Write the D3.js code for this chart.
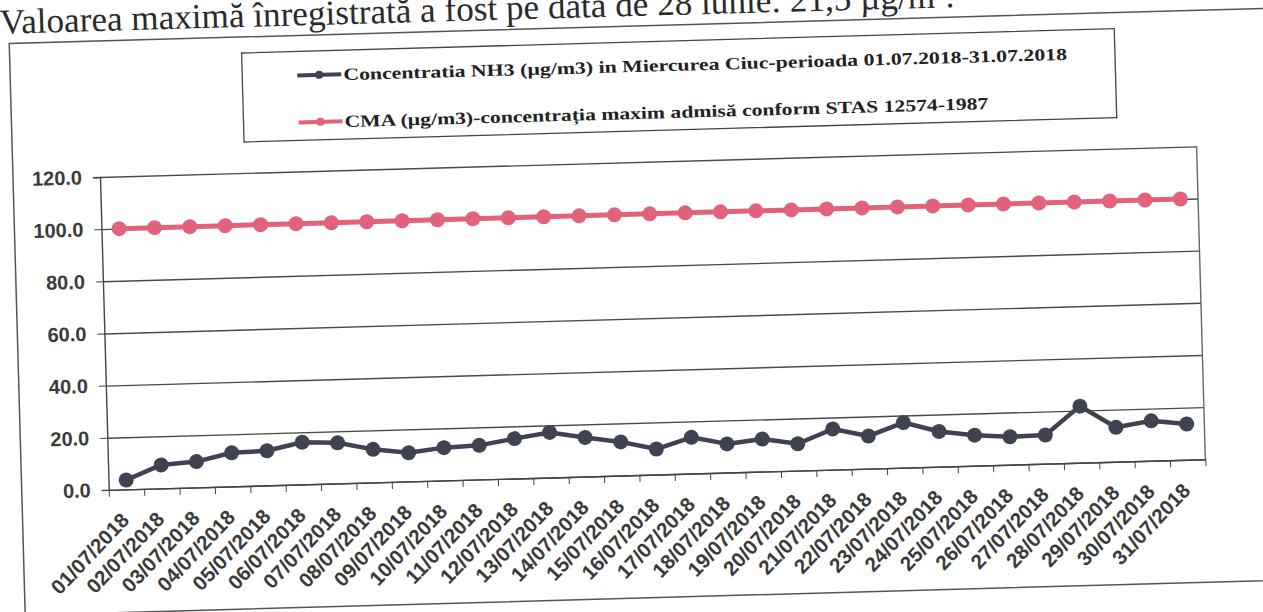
<!DOCTYPE html>
<html>
<head>
<meta charset="utf-8">
<script src="https://cdn.jsdelivr.net/npm/d3@7/dist/d3.min.js"></script>
<style>
  body { margin: 0; background: #fff; }
  svg { display: block; }
  .axis text { font-family: "Liberation Sans", Arial, sans-serif; font-weight: bold; fill: #3a3a3a; }
  .axis path, .axis line { stroke: #444; }
</style>
</head>
<body>
<svg id="chart" width="1263" height="612"></svg>
<script>
// NH3 daily concentrations, July 2018
var dates = ["01/07/2018","02/07/2018","03/07/2018","04/07/2018","05/07/2018","06/07/2018","07/07/2018",
  "08/07/2018","09/07/2018","10/07/2018","11/07/2018","12/07/2018","13/07/2018","14/07/2018",
  "15/07/2018","16/07/2018","17/07/2018","18/07/2018","19/07/2018","20/07/2018","21/07/2018",
  "22/07/2018","23/07/2018","24/07/2018","25/07/2018","26/07/2018","27/07/2018","28/07/2018",
  "29/07/2018","30/07/2018","31/07/2018"];
var nh3 = [3.6, 9.0, 9.9, 12.9, 13.3, 16.2, 15.6, 12.7, 11.0, 12.6, 13.1, 15.3, 17.3, 15.0, 12.9, 9.8,
  13.9, 11.0, 12.5, 10.3, 15.6, 12.5, 17.3, 13.5, 11.7, 10.7, 11.0, 21.7, 13.2, 15.3, 13.7];
var cma = [100, 100, 100, 100, 100, 100, 100, 100, 100, 100, 100, 100, 100, 100, 100, 100,
  100, 100, 100, 100, 100, 100, 100, 100, 100, 100, 100, 100, 100, 100, 100];
var yTicks = [0, 20, 40, 60, 80, 100, 120];
var seriesNames = ["Concentratia NH3 (\u00b5g/m3) in Miercurea Ciuc-perioada 01.07.2018-31.07.2018",
  "CMA (\u00b5g/m3)-concentra\u021bia maxim admis\u0103 conform STAS 12574-1987"];
var seriesColors = ["#3f4351", "#e2617b"];

var svg = d3.select("#chart");
svg.append("rect").attr("width", 1263).attr("height", 612).attr("fill", "#fff");

// the scanned page is slightly tilted
var page = svg.append("g").attr("transform", "rotate(-1.6,100,177)");

page.append("text")
    .attr("x", 4).attr("y", 31)
    .attr("textLength", 955).attr("lengthAdjust", "spacingAndGlyphs")
    .style("font-family", "'Liberation Serif', 'Times New Roman', serif")
    .style("font-size", "35px").attr("fill", "#2a2a2a")
    .text("Valoarea maxim\u0103 \u00eenregistrat\u0103 a fost pe data de 28 iunie: 21,5 \u00b5g/m\u00b3.");

// outer chart frame
page.append("rect")
    .attr("x", 13).attr("y", 41).attr("width", 1300).attr("height", 572)
    .attr("fill", "none").attr("stroke", "#555").attr("stroke-width", 1.5);

// legend
var legend = page.append("g");
legend.append("rect")
    .attr("x", 245).attr("y", 57).attr("width", 873).attr("height", 89)
    .attr("fill", "#fff").attr("stroke", "#444").attr("stroke-width", 1.3);
var item = legend.selectAll(".item")
    .data(seriesNames)
    .enter().append("g")
      .attr("class", "item")
      .attr("transform", function(d, i) { return "translate(300," + (81 + i * 47) + ")"; });
item.append("line")
    .attr("x1", 0).attr("x2", 44)
    .attr("stroke", function(d, i) { return seriesColors[i]; })
    .attr("stroke-width", 4);
item.append("circle")
    .attr("cx", 22).attr("r", 4)
    .attr("fill", function(d, i) { return seriesColors[i]; });
item.append("text")
    .attr("x", 46).attr("dy", "0.35em")
    .attr("textLength", function(d, i) { return i === 0 ? 724 : 644; })
    .attr("lengthAdjust", "spacingAndGlyphs")
    .style("font-family", "'Liberation Serif', 'Times New Roman', serif")
    .style("font-weight", "bold").style("font-size", "17px")
    .attr("fill", "#222")
    .text(function(d) { return d; });

// plot area
var margin = {left: 100, top: 177},
    width = 1097, height = 313;
var g = page.append("g").attr("transform", "translate(" + margin.left + "," + margin.top + ")");

var x = d3.scaleBand().domain(dates).range([0, width]).padding(0);
var xTick = d3.scaleLinear().domain([0, dates.length]).range([0, width]);
var y = d3.scaleLinear().domain([0, 120]).range([height, 0]);

// gridlines
g.append("g")
    .attr("class", "grid")
    .call(d3.axisLeft(y).tickValues(yTicks).tickSize(-width).tickFormat(""))
    .call(function(s) { s.select(".domain").remove(); })
    .selectAll("line").attr("stroke", "#4a4a4a").attr("stroke-width", 1.4);

// right border
g.append("line")
    .attr("x1", width).attr("x2", width).attr("y1", 0).attr("y2", height)
    .attr("stroke", "#666").attr("stroke-width", 1.4);

// y axis
g.append("g")
    .attr("class", "axis axis--y")
    .call(d3.axisLeft(y).tickValues(yTicks).tickSize(7).tickPadding(11).tickFormat(d3.format(".1f")))
    .call(function(s) { s.select(".domain").attr("stroke-width", 1.4); })
    .selectAll("text").style("font-size", "20px");

// x axis: tick marks between categories
g.append("g")
    .attr("class", "axis axis--x")
    .attr("transform", "translate(0," + height + ")")
    .call(d3.axisBottom(xTick).tickValues(d3.range(dates.length + 1)).tickSize(7).tickSizeOuter(0).tickFormat(""))
    .call(function(s) { s.select(".domain").attr("stroke-width", 1.4); });

// x labels
g.append("g")
    .attr("class", "axis axis--xlabels")
    .attr("transform", "translate(0," + height + ")")
    .call(d3.axisBottom(x).tickSize(0).tickPadding(0))
    .call(function(s) { s.select(".domain").remove(); })
    .selectAll("text")
      .style("font-size", "20.5px")
      .style("text-anchor", "end")
      .attr("y", 0).attr("dy", 0)
      .attr("transform", "translate(3,32) rotate(-45)");

var line = d3.line()
    .x(function(d, i) { return x(dates[i]) + x.bandwidth() / 2; })
    .y(function(d) { return y(d); });

[cma, nh3].forEach(function(values, k) {
  var col = k === 0 ? seriesColors[1] : seriesColors[0];
  var serie = g.append("g").attr("class", "serie");
  serie.append("path")
      .datum(values)
      .attr("fill", "none")
      .attr("stroke", col)
      .attr("stroke-width", k === 0 ? 5 : 4.5)
      .attr("stroke-linejoin", "round")
      .attr("d", line);
  serie.selectAll("circle")
      .data(values)
      .enter().append("circle")
        .attr("cx", function(d, i) { return x(dates[i]) + x.bandwidth() / 2; })
        .attr("cy", function(d) { return y(d); })
        .attr("r", 7.5)
        .attr("fill", col);
});
</script>
</body>
</html>
